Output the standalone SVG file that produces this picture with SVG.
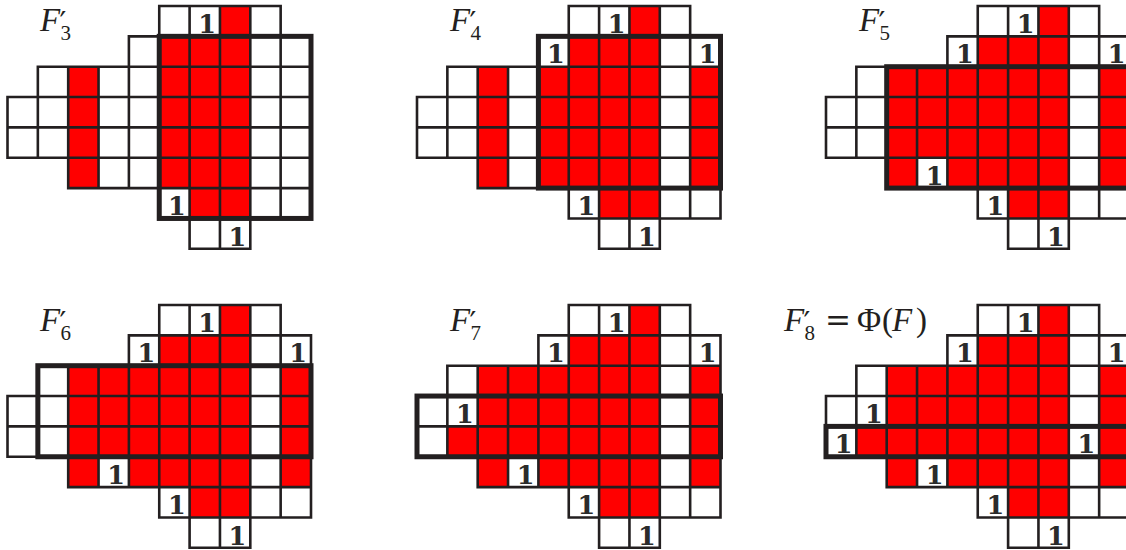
<svg xmlns="http://www.w3.org/2000/svg" xmlns:xlink="http://www.w3.org/1999/xlink" width="1126" height="550" viewBox="0 0 1126 550">
<style>
.red{fill:#FF0000;stroke:none}
.grid{fill:none;stroke:#231F20;stroke-width:0.0857;stroke-linecap:square}
.thick{fill:none;stroke:#231F20;stroke-width:0.165;stroke-linecap:square}
.one{font-family:"DejaVu Serif","Liberation Serif",serif;font-weight:bold;font-size:25.5px;fill:#2B2B2B;text-anchor:middle}
.lbl{font-family:"Liberation Serif","Times New Roman",serif;font-size:33px;fill:#231F20}
.it{font-style:italic}
.pr{font-family:"DejaVu Sans",sans-serif;font-size:30px}
.sub{font-size:21px}
.eq{font-family:"DejaVu Serif",serif;font-size:31px}
</style>
<defs>
<path id="grid" class="grid" d="M5 0H9M4 1H10M1 2H10M0 3H10M0 4H10M0 5H10M2 6H10M5 7H10M6 8H8M0 3V5M1 2V5M2 2V6M3 2V6M4 1V6M5 0V7M6 0V8M7 0V8M8 0V8M9 0V7M10 1V7"/>
</defs>
<rect width="1126" height="550" fill="#FFFFFF"/>

<g id="panel-f3">
<text class="lbl" y="31"><tspan x="40" class="it">F</tspan><tspan x="59.5" y="33" class="pr">′</tspan><tspan x="60.5" y="40" class="sub">3</tspan></text>
<g transform="translate(7.5,6)">
<g transform="scale(30.35)">
<rect class="red" x="7" y="0" width="1" height="1"/>
<rect class="red" x="5" y="1" width="3" height="5"/>
<rect class="red" x="6" y="6" width="2" height="1"/>
<rect class="red" x="2" y="2" width="1" height="4"/>
<use xlink:href="#grid" href="#grid"/>
<rect class="thick" x="5" y="1" width="5" height="6"/>
</g>
<text class="one" x="199.6" y="27">1</text>
<text class="one" x="169.25" y="209">1</text>
<text class="one" x="229.95" y="239.5">1</text>
</g>
</g>

<g id="panel-f4">
<text class="lbl" y="31"><tspan x="450" class="it">F</tspan><tspan x="469.5" y="33" class="pr">′</tspan><tspan x="470.5" y="40" class="sub">4</tspan></text>
<g transform="translate(417,6)">
<g transform="scale(30.35)">
<rect class="red" x="7" y="0" width="1" height="1"/>
<rect class="red" x="5" y="1" width="3" height="1"/>
<rect class="red" x="4" y="2" width="4" height="4"/>
<rect class="red" x="6" y="6" width="2" height="1"/>
<rect class="red" x="2" y="2" width="1" height="4"/>
<rect class="red" x="9" y="2" width="1" height="4"/>
<use xlink:href="#grid" href="#grid"/>
<rect class="thick" x="4" y="1" width="6" height="5"/>
</g>
<text class="one" x="199.6" y="27">1</text>
<text class="one" x="138.9" y="57.4">1</text>
<text class="one" x="290.65" y="57.4">1</text>
<text class="one" x="169.25" y="209">1</text>
<text class="one" x="229.95" y="239.5">1</text>
</g>
</g>

<g id="panel-f5">
<text class="lbl" y="31"><tspan x="859" class="it">F</tspan><tspan x="878.5" y="33" class="pr">′</tspan><tspan x="879.5" y="40" class="sub">5</tspan></text>
<g transform="translate(826,6)">
<g transform="scale(30.35)">
<rect class="red" x="7" y="0" width="1" height="1"/>
<rect class="red" x="5" y="1" width="3" height="1"/>
<rect class="red" x="2" y="2" width="6" height="3"/>
<rect class="red" x="2" y="5" width="1" height="1"/>
<rect class="red" x="4" y="5" width="4" height="1"/>
<rect class="red" x="6" y="6" width="2" height="1"/>
<rect class="red" x="9" y="2" width="1" height="4"/>
<use xlink:href="#grid" href="#grid"/>
<rect class="thick" x="2" y="2" width="8" height="4"/>
</g>
<text class="one" x="199.6" y="27">1</text>
<text class="one" x="138.9" y="57.4">1</text>
<text class="one" x="290.65" y="57.4">1</text>
<text class="one" x="108.55" y="178.8">1</text>
<text class="one" x="169.25" y="209">1</text>
<text class="one" x="229.95" y="239.5">1</text>
</g>
</g>

<g id="panel-f6">
<text class="lbl" y="331"><tspan x="40" class="it">F</tspan><tspan x="59.5" y="333" class="pr">′</tspan><tspan x="60.5" y="340" class="sub">6</tspan></text>
<g transform="translate(7.5,305)">
<g transform="scale(30.35)">
<rect class="red" x="7" y="0" width="1" height="1"/>
<rect class="red" x="5" y="1" width="3" height="1"/>
<rect class="red" x="2" y="2" width="6" height="3"/>
<rect class="red" x="2" y="5" width="1" height="1"/>
<rect class="red" x="4" y="5" width="4" height="1"/>
<rect class="red" x="6" y="6" width="2" height="1"/>
<rect class="red" x="9" y="2" width="1" height="4"/>
<use xlink:href="#grid" href="#grid"/>
<rect class="thick" x="1" y="2" width="9" height="3"/>
</g>
<text class="one" x="199.6" y="27">1</text>
<text class="one" x="138.9" y="57.4">1</text>
<text class="one" x="290.65" y="57.4">1</text>
<text class="one" x="108.55" y="178.8">1</text>
<text class="one" x="169.25" y="209">1</text>
<text class="one" x="229.95" y="239.5">1</text>
</g>
</g>

<g id="panel-f7">
<text class="lbl" y="331"><tspan x="450" class="it">F</tspan><tspan x="469.5" y="333" class="pr">′</tspan><tspan x="470.5" y="340" class="sub">7</tspan></text>
<g transform="translate(417,305)">
<g transform="scale(30.35)">
<rect class="red" x="7" y="0" width="1" height="1"/>
<rect class="red" x="5" y="1" width="3" height="1"/>
<rect class="red" x="2" y="2" width="6" height="3"/>
<rect class="red" x="1" y="4" width="1" height="1"/>
<rect class="red" x="2" y="5" width="1" height="1"/>
<rect class="red" x="4" y="5" width="4" height="1"/>
<rect class="red" x="6" y="6" width="2" height="1"/>
<rect class="red" x="9" y="2" width="1" height="4"/>
<use xlink:href="#grid" href="#grid"/>
<rect class="thick" x="0" y="3" width="10" height="2"/>
</g>
<text class="one" x="199.6" y="27">1</text>
<text class="one" x="138.9" y="57.4">1</text>
<text class="one" x="290.65" y="57.4">1</text>
<text class="one" x="47.85" y="118.1">1</text>
<text class="one" x="108.55" y="178.8">1</text>
<text class="one" x="169.25" y="209">1</text>
<text class="one" x="229.95" y="239.5">1</text>
</g>
</g>

<g id="panel-f8">
<text class="lbl" y="331"><tspan x="784" class="it">F</tspan><tspan x="803.5" y="333" class="pr">′</tspan><tspan x="804.5" y="340" class="sub">8</tspan><tspan x="825" y="331" class="eq">=</tspan><tspan x="857" y="331">Φ</tspan><tspan x="882" y="331">(</tspan><tspan x="892" y="331" class="it">F</tspan><tspan x="916" y="331">)</tspan></text>
<g transform="translate(826,305)">
<g transform="scale(30.35)">
<rect class="red" x="7" y="0" width="1" height="1"/>
<rect class="red" x="5" y="1" width="3" height="1"/>
<rect class="red" x="2" y="2" width="6" height="3"/>
<rect class="red" x="1" y="4" width="1" height="1"/>
<rect class="red" x="2" y="5" width="1" height="1"/>
<rect class="red" x="4" y="5" width="4" height="1"/>
<rect class="red" x="6" y="6" width="2" height="1"/>
<rect class="red" x="9" y="2" width="1" height="4"/>
<use xlink:href="#grid" href="#grid"/>
<rect class="thick" x="0" y="4" width="10" height="1"/>
</g>
<text class="one" x="199.6" y="27">1</text>
<text class="one" x="138.9" y="57.4">1</text>
<text class="one" x="290.65" y="57.4">1</text>
<text class="one" x="47.85" y="118.1">1</text>
<text class="one" x="17.5" y="148.4">1</text>
<text class="one" x="260.3" y="148.4">1</text>
<text class="one" x="108.55" y="178.8">1</text>
<text class="one" x="169.25" y="209">1</text>
<text class="one" x="229.95" y="239.5">1</text>
</g>
</g>
</svg>
